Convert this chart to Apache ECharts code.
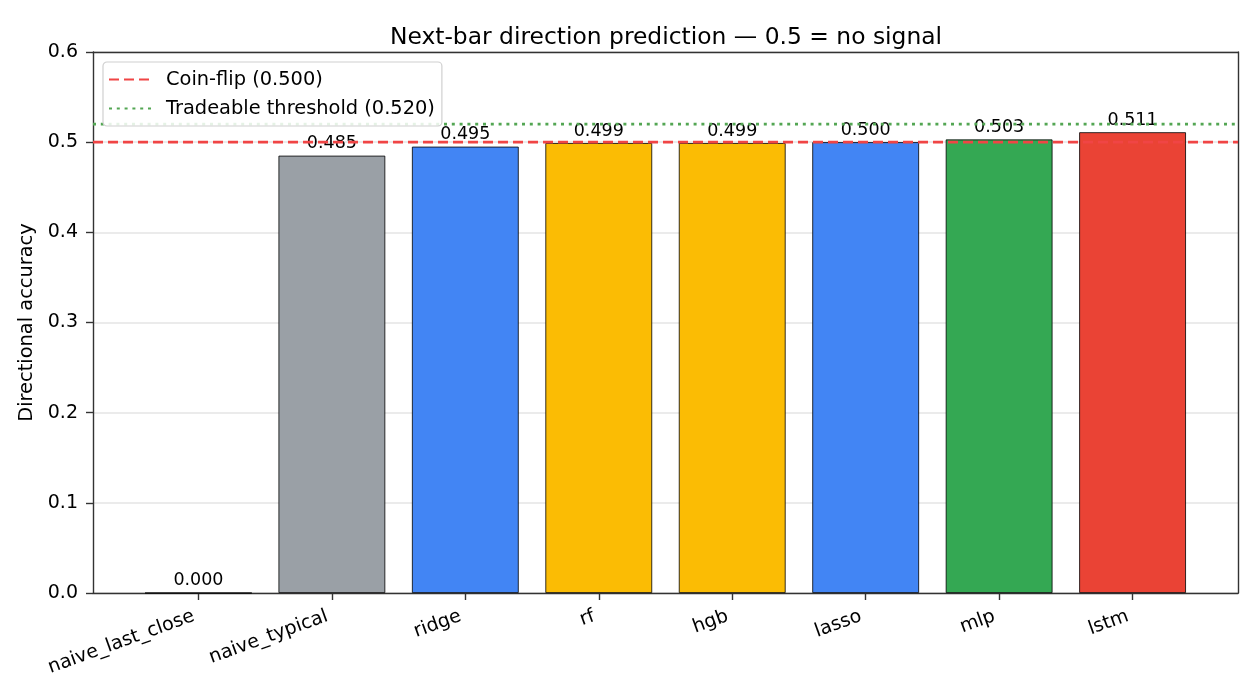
<!DOCTYPE html>
<html>
<head>
<meta charset="utf-8">
<script src="https://cdn.jsdelivr.net/npm/echarts@6/dist/echarts.min.js"></script>
<style>
html,body{margin:0;padding:0;background:#fff;}
#chart{width:1260px;height:700px;}
</style>
</head>
<body>
<div id="chart"></div>
<script>
const categories = ['naive_last_close','naive_typical','ridge','rf','hgb','lasso','mlp','lstm'];
const accuracy = [0.000, 0.485, 0.495, 0.499, 0.499, 0.500, 0.503, 0.511];
const barColors = ['#9aa0a6','#9aa0a6','#4285f4','#fbbc04','#fbbc04','#4285f4','#34a853','#ea4335'];
const coinFlip = 0.500;
const threshold = 0.520;
const yMin = 0, yMax = 0.6, yStep = 0.1;

const FONT = 'DejaVu Sans';
const SPINE = {show: true, onZero: false, lineStyle: {color: '#333', width: 1.4}};
const chart = echarts.init(document.getElementById('chart'), null, {renderer:'canvas'});

const frameAxis = (extra) => Object.assign({
  type: 'value', gridIndex: 0, min: 0, max: 1,
  axisLine: SPINE, axisTick: {show: false}, axisLabel: {show: false}, splitLine: {show: false}
}, extra);

const option = {
  animation: false,
  backgroundColor: '#fff',
  textStyle: {fontFamily: FONT},
  title: {
    text: 'Next-bar direction prediction \u2014 0.5 = no signal',
    left: 661, top: 21, textAlign: 'center',
    textStyle: {fontFamily: FONT, fontSize: 23.4, fontWeight: 'normal', color: '#000'}
  },
  legend: {
    data: ['Coin-flip (' + coinFlip.toFixed(3) + ')', 'Tradeable threshold (' + threshold.toFixed(3) + ')'],
    orient: 'vertical',
    left: 103, top: 62,
    padding: [8, 7, 8, 5],
    itemWidth: 42, itemHeight: 14, itemGap: 10,
    backgroundColor: 'rgba(255,255,255,0.85)',
    borderColor: '#d0d0d0', borderWidth: 1.2, borderRadius: 4,
    itemStyle: {color: 'rgba(0,0,0,0)', borderWidth: 0, opacity: 0},
    textStyle: {fontFamily: FONT, fontSize: 19.4, color: '#000', padding: [0,0,0,10]}
  },
  grid: [
    {left: 93, right: 22, top: 52, bottom: 107},
    {left: 131.7, right: 60.7, top: 52, bottom: 107}
  ],
  xAxis: [
    frameAxis({position: 'bottom'}),
    {type: 'category', gridIndex: 1, data: categories, boundaryGap: true,
     axisLine: {show: false},
     axisTick: {show: true, alignWithLabel: true, length: 7, lineStyle: {color: '#333', width: 1.4}},
     axisLabel: {interval: 0, rotate: 20, fontFamily: FONT, fontSize: 19, color: '#000', margin: 21, padding: [0, 5, 0, 0]},
     splitLine: {show: false}},
    frameAxis({position: 'top'})
  ],
  yAxis: [
    {type: 'value', gridIndex: 0, min: yMin, max: yMax, interval: yStep,
     name: 'Directional accuracy', nameLocation: 'middle', nameGap: 46,
     nameTextStyle: {fontFamily: FONT, fontSize: 19.4, color: '#000'},
     axisLine: SPINE,
     axisTick: {show: true, length: 7, lineStyle: {color: '#333', width: 1.4}},
     axisLabel: {fontFamily: FONT, fontSize: 19, color: '#000', margin: 15, formatter: v => v.toFixed(1)},
     splitLine: {show: true, lineStyle: {color: '#ebebeb', width: 2}}},
    {type: 'value', gridIndex: 1, min: yMin, max: yMax, interval: yStep, show: false, splitLine: {show: false}},
    {type: 'value', gridIndex: 0, min: yMin, max: yMax, position: 'right',
     axisLine: SPINE, axisTick: {show: false}, axisLabel: {show: false}, splitLine: {show: false}}
  ],
  series: [
    {
      type: 'bar', xAxisIndex: 1, yAxisIndex: 1, barWidth: '80%', z: 2,
      data: accuracy.map((v, i) => ({value: v, itemStyle: {color: barColors[i]}})),
      itemStyle: {borderColor: '#000', borderWidth: 0.8},
      label: {show: true, position: 'top', distance: 3, fontFamily: FONT, fontSize: 17.5, color: '#000',
              formatter: p => p.value.toFixed(3)}
    },
    {
      name: 'Coin-flip (' + coinFlip.toFixed(3) + ')', type: 'line', xAxisIndex: 0, yAxisIndex: 0,
      data: [[0, coinFlip], [1, coinFlip]], symbol: 'none', z: 3,
      lineStyle: {color: '#f04545', width: 2.9, type: [10, 5], cap: 'butt'},
      itemStyle: {color: '#f04545'}
    },
    {
      name: 'Tradeable threshold (' + threshold.toFixed(3) + ')', type: 'line', xAxisIndex: 0, yAxisIndex: 0,
      data: [[0, threshold], [1, threshold]], symbol: 'none', z: 3,
      lineStyle: {color: '#53a653', width: 2.9, type: [3, 4.8], cap: 'butt'},
      itemStyle: {color: '#53a653'}
    }
  ]
};
chart.setOption(option);
</script>
</body>
</html>
